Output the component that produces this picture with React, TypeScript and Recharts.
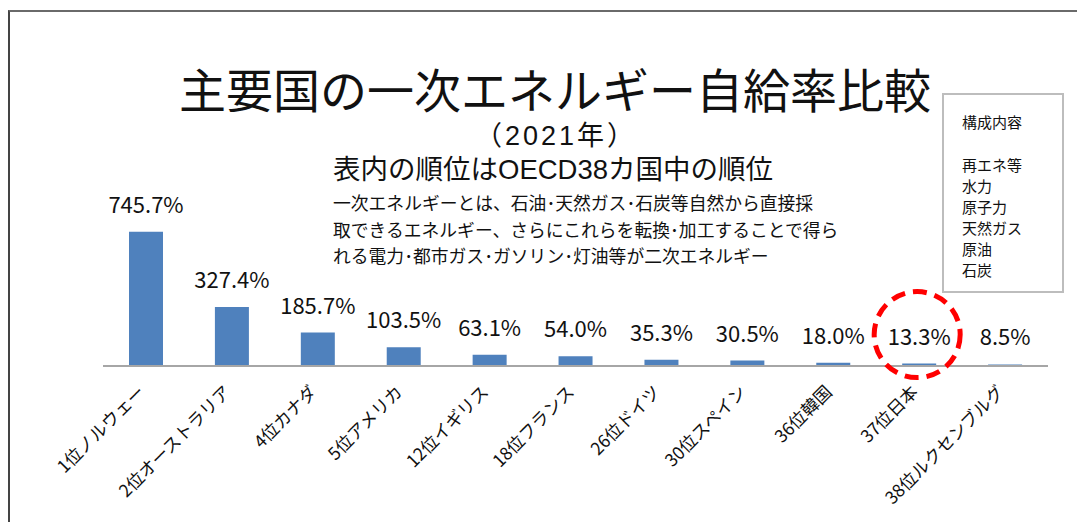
import React from "react";
import { BarChart, Bar, XAxis, YAxis, LabelList } from "recharts";

const countries = [
  "1位ノルウェー",
  "2位オーストラリア",
  "4位カナダ",
  "5位アメリカ",
  "12位イギリス",
  "18位フランス",
  "26位ドイツ",
  "30位スペイン",
  "36位韓国",
  "37位日本",
  "38位ルクセンブルグ",
];
const selfSufficiency = [745.7, 327.4, 185.7, 103.5, 63.1, 54.0, 35.3, 30.5, 18.0, 13.3, 8.5];
const highlighted = "37位日本";

const noteLines = [
  "一次エネルギーとは、石油･天然ガス･石炭等自然から直接採",
  "取できるエネルギー、さらにこれらを転換･加工することで得ら",
  "れる電力･都市ガス･ガソリン･灯油等が二次エネルギー",
];
const legendTitle = "構成内容";
const legendItems = ["再エネ等", "水力", "原子力", "天然ガス", "原油", "石炭"];

const data = countries.map((name, i) => ({ name, value: selfSufficiency[i] }));

const FONT = '"Noto Sans CJK JP", "Noto Sans", sans-serif';
// tighter line metrics for the two stacked subtitle lines, CJK falls back to Noto
const TIGHT_FONT = '"Liberation Sans", "Noto Sans CJK JP", sans-serif';

function ValueLabel(props: any) {
  const { x, y, width, value, index } = props;
  const cx = x + width / 2;
  const ty = y - 19;
  const isMarked = countries[index] === highlighted;
  return (
    <g>
      <text x={cx} y={ty} textAnchor="middle" fontSize={22} fill="#111" fontFamily={FONT}>
        {`${Number(value).toFixed(1)}%`}
      </text>
      {isMarked && (
        <circle
          cx={cx - 2}
          cy={ty - 10}
          r={43}
          fill="none"
          stroke="#ff0000"
          strokeWidth={5}
          strokeDasharray="14 8"
        />
      )}
    </g>
  );
}

function CountryTick(props: any) {
  const { x, y, payload } = props;
  return (
    <g transform={`translate(${x},${y + 19})`}>
      <text
        transform="rotate(-45)"
        textAnchor="end"
        fontSize={17.5}
        fill="#111"
        fontFamily={FONT}
      >
        {payload.value}
      </text>
    </g>
  );
}

export default function App() {
  return (
    <div style={{ position: "relative", width: 1077, height: 514, fontFamily: FONT, color: "#111" }}>
      <div
        style={{
          position: "absolute",
          left: 0,
          top: 2,
          width: 1077,
          height: 512,
          borderTop: "2px solid #6a6a6a",
          borderLeft: "2px solid #444",
        }}
      />
      <div style={{ position: "absolute", left: 0, width: 1094, top: 54, textAlign: "center", fontSize: 47, lineHeight: "52px" }}>
        主要国の一次エネルギー自給率比較
      </div>
      <div style={{ position: "absolute", left: 467, width: 160, top: 113, textAlign: "center", fontSize: 27, lineHeight: "30px", letterSpacing: 3, fontFamily: TIGHT_FONT }}>
        （2021年）
      </div>
      <div style={{ position: "absolute", left: 325, top: 146, fontSize: 27.5, lineHeight: "32px", fontFamily: TIGHT_FONT }}>
        表内の順位はOECD38カ国中の順位
      </div>
      <div style={{ position: "absolute", left: 325, top: 181, fontSize: 17.8, lineHeight: "26.5px" }}>
        {noteLines.map((l) => (
          <div key={l}>{l}</div>
        ))}
      </div>
      <div
        style={{
          position: "absolute",
          left: 934,
          top: 85,
          width: 122,
          height: 200,
          border: "2px solid #bdbdbd",
          fontSize: 15,
          lineHeight: "21px",
          paddingLeft: 18,
          paddingTop: 16,
          boxSizing: "border-box",
        }}
      >
        <div>{legendTitle}</div>
        <div style={{ height: 22 }} />
        {legendItems.map((l) => (
          <div key={l}>{l}</div>
        ))}
      </div>
      <div style={{ position: "absolute", left: 0, top: 0 }}>
        <BarChart
          width={1077}
          height={514}
          data={data}
          margin={{ top: 214, right: 37, bottom: 96, left: 95 }}
          barSize={34}
        >
          <XAxis
            dataKey="name"
            interval={0}
            tickLine={false}
            axisLine={{ stroke: "#a6a6a6", strokeWidth: 2 }}
            tick={<CountryTick />}
            height={60}
          />
          <YAxis hide domain={[0, 800]} />
          <Bar dataKey="value" fill="#4f81bd" isAnimationActive={false}>
            <LabelList dataKey="value" content={<ValueLabel />} />
          </Bar>
        </BarChart>
      </div>
    </div>
  );
}
